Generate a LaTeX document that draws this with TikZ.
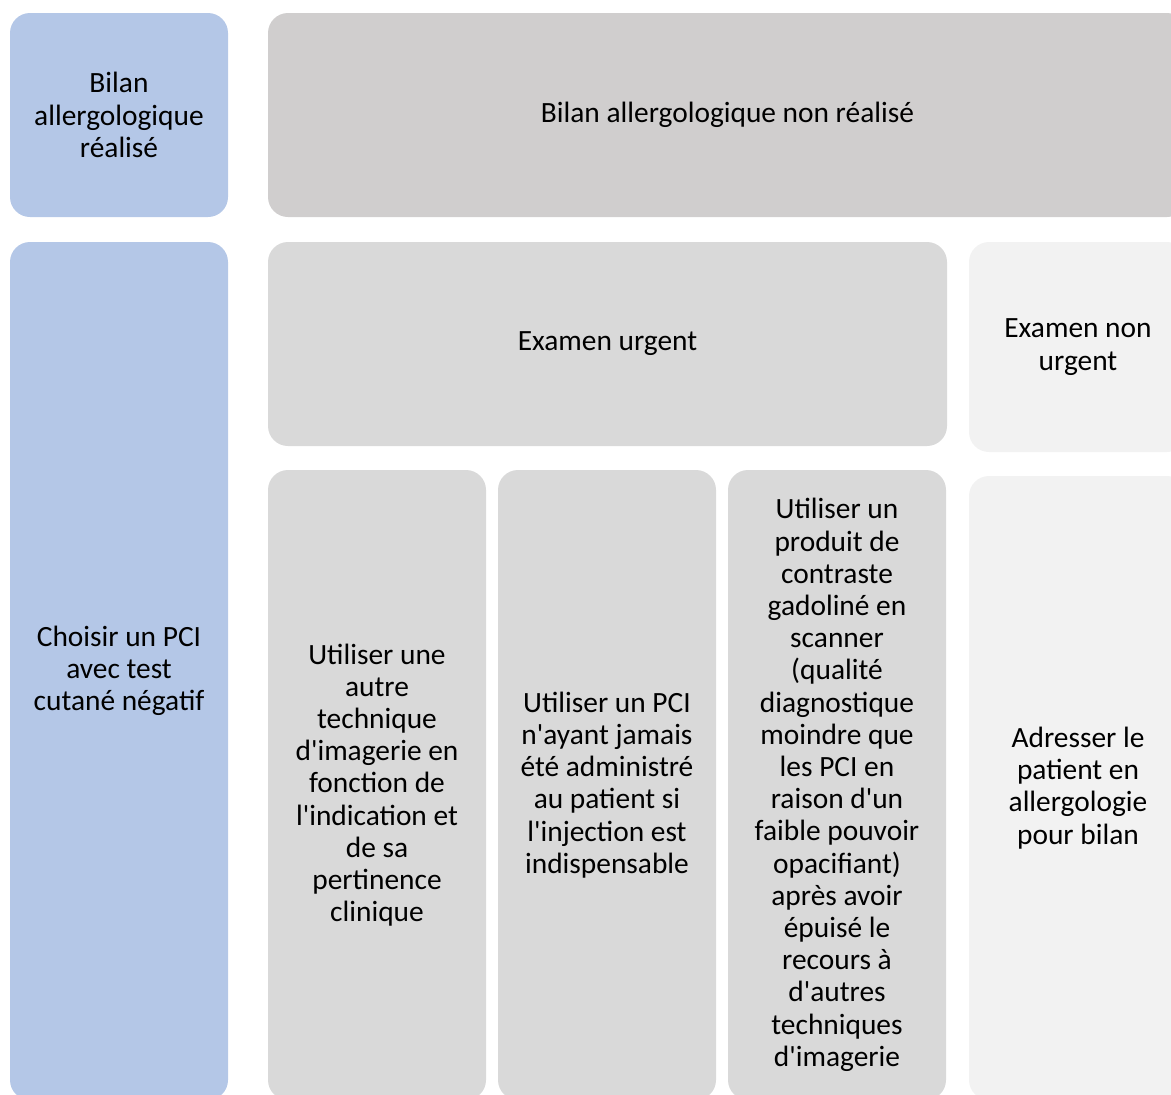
\documentclass[tikz,border=0pt]{standalone}
\usepackage{fontspec}
\setmainfont{Carlito}
\usepackage{tikz}
\usetikzlibrary{positioning}

\definecolor{bleu}{HTML}{B4C7E7}
\definecolor{grisfonce}{HTML}{D0CECE}
\definecolor{gris}{HTML}{D9D9D9}
\definecolor{grisclair}{HTML}{F2F2F2}
\newcommand{\ap}{\textquotesingle}

\tikzset{
  cell/.style={rounded corners=20pt, inner sep=0pt, outer sep=0pt, align=center,
    font=\fontsize{29.4}{32.2}\selectfont},
  colonne/.style={cell, fill=gris, minimum width=218pt, minimum height=630pt}
}

\begin{document}
\begin{tikzpicture}[x=1pt, y=-1pt]
          \path[use as bounding box, clip] (0,0) rectangle (1171,1095);
          \node[cell, fill=bleu, minimum width=218pt, minimum height=204pt, anchor=north west] (realise) at (10,13) {Bilan\\allergologique\\réalisé};
          \node[cell, fill=grisfonce, minimum width=919pt, minimum height=204pt, right=40pt of realise] (nonrealise) {Bilan allergologique non réalisé};
          \node[cell, fill=bleu, minimum width=218pt, minimum height=858pt, below=25pt of realise] (choisir) {Choisir un PCI\\avec test\\cutané négatif};
          \node[cell, fill=gris, minimum width=679pt, minimum height=204pt, below=25pt of nonrealise.south west, anchor=north west] (urgent) {Examen urgent};
          \node[cell, fill=grisclair, minimum width=218pt, minimum height=210pt, right=22pt of urgent.north east, anchor=north west] (nonurgent) {Examen non\\urgent};
          \node[colonne, below=24pt of urgent.south west, anchor=north west] (autre) {Utiliser une\\autre\\technique\\d\ap imagerie en\\fonction de\\l\ap indication et\\de sa\\pertinence\\clinique};
          \node[colonne, right=12pt of autre] (jamais) {Utiliser un PCI\\n\ap ayant jamais\\été administré\\au patient si\\l\ap injection est\\indispensable};
          \node[colonne, right=12pt of jamais] (gado) {Utiliser un\\produit de\\contraste\\gadoliné en\\scanner\\(qualité\\diagnostique\\moindre que\\les PCI en\\raison d\ap un\\faible pouvoir\\opacifiant)\\après avoir\\épuisé le\\recours à\\d\ap autres\\techniques\\d\ap imagerie};
          \node[cell, fill=grisclair, minimum width=218pt, minimum height=624pt, below=24pt of nonurgent] (adresser) {Adresser le\\patient en\\allergologie\\pour bilan};
        \end{tikzpicture}
\end{document}
